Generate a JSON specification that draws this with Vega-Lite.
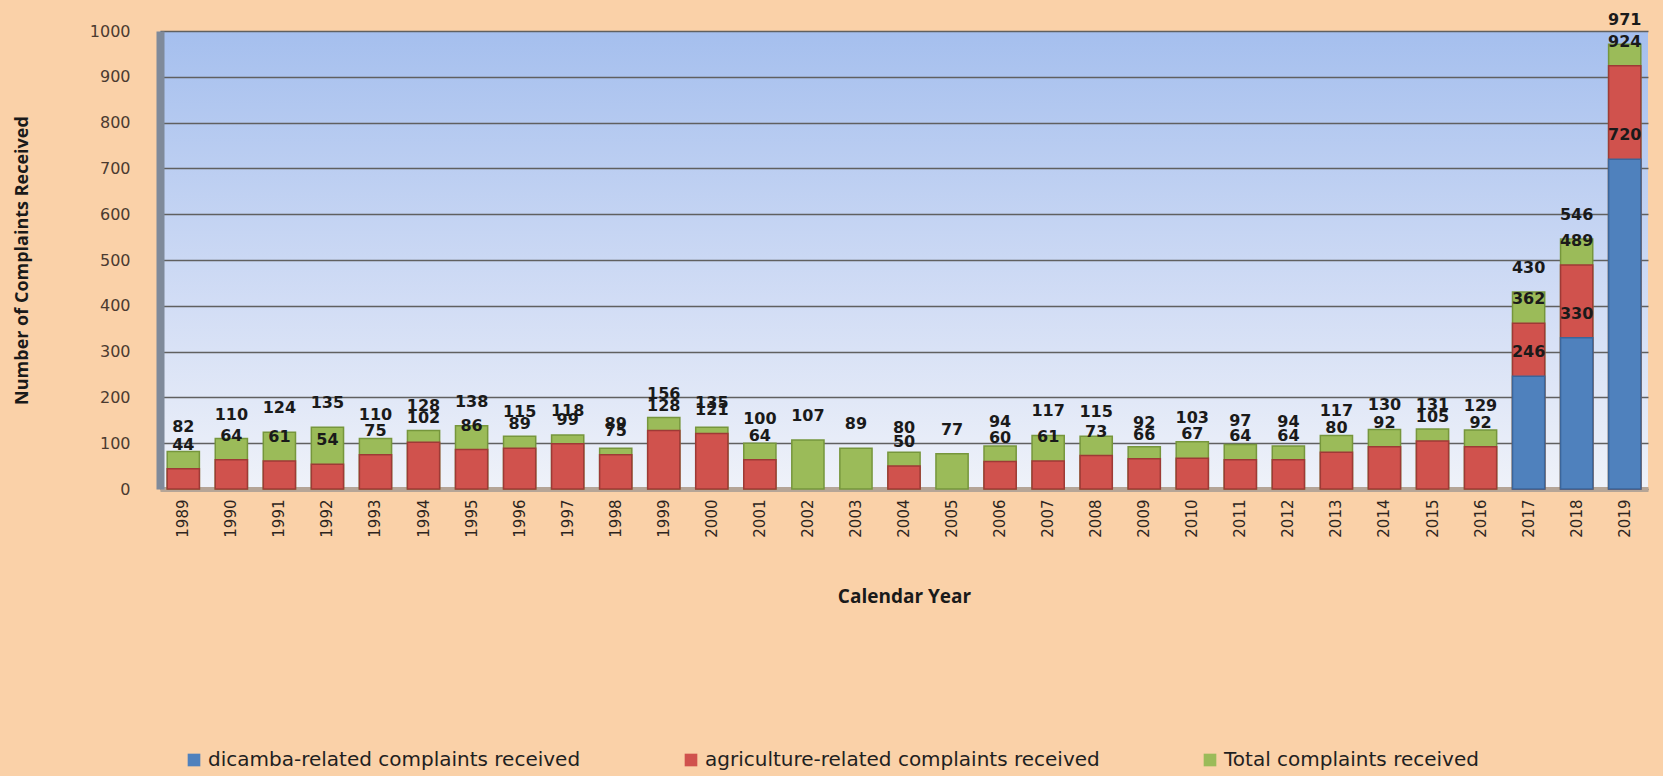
{
  "$schema": "https://vega.github.io/schema/vega-lite/v6.json",
  "width": 1488,
  "height": 458,
  "autosize": {"type": "none"},
  "padding": {"left": 160, "top": 31, "right": 15, "bottom": 287},
  "background": "#fad1a8",
  "config": {
    "view": {
      "stroke": null,
      "fill": {"gradient": "linear", "x1": 0, "y1": 0, "x2": 0, "y2": 1,
        "stops": [{"offset": 0, "color": "#a5bfee"}, {"offset": 0.6, "color": "#d2ddf5"}, {"offset": 1, "color": "#eff2f9"}]}
    }
  },
  "data": {
    "values": [
      {"year": "1989", "series": "Total complaints received", "value": 82},
      {"year": "1990", "series": "Total complaints received", "value": 110},
      {"year": "1991", "series": "Total complaints received", "value": 124},
      {"year": "1992", "series": "Total complaints received", "value": 135},
      {"year": "1993", "series": "Total complaints received", "value": 110},
      {"year": "1994", "series": "Total complaints received", "value": 128},
      {"year": "1995", "series": "Total complaints received", "value": 138},
      {"year": "1996", "series": "Total complaints received", "value": 115},
      {"year": "1997", "series": "Total complaints received", "value": 118},
      {"year": "1998", "series": "Total complaints received", "value": 89},
      {"year": "1999", "series": "Total complaints received", "value": 156},
      {"year": "2000", "series": "Total complaints received", "value": 135},
      {"year": "2001", "series": "Total complaints received", "value": 100},
      {"year": "2002", "series": "Total complaints received", "value": 107},
      {"year": "2003", "series": "Total complaints received", "value": 89},
      {"year": "2004", "series": "Total complaints received", "value": 80},
      {"year": "2005", "series": "Total complaints received", "value": 77},
      {"year": "2006", "series": "Total complaints received", "value": 94},
      {"year": "2007", "series": "Total complaints received", "value": 117},
      {"year": "2008", "series": "Total complaints received", "value": 115},
      {"year": "2009", "series": "Total complaints received", "value": 92},
      {"year": "2010", "series": "Total complaints received", "value": 103},
      {"year": "2011", "series": "Total complaints received", "value": 97},
      {"year": "2012", "series": "Total complaints received", "value": 94},
      {"year": "2013", "series": "Total complaints received", "value": 117},
      {"year": "2014", "series": "Total complaints received", "value": 130},
      {"year": "2015", "series": "Total complaints received", "value": 131},
      {"year": "2016", "series": "Total complaints received", "value": 129},
      {"year": "2017", "series": "Total complaints received", "value": 430},
      {"year": "2018", "series": "Total complaints received", "value": 546},
      {"year": "2019", "series": "Total complaints received", "value": 971},
      {"year": "1989", "series": "agriculture-related complaints received", "value": 44},
      {"year": "1990", "series": "agriculture-related complaints received", "value": 64},
      {"year": "1991", "series": "agriculture-related complaints received", "value": 61},
      {"year": "1992", "series": "agriculture-related complaints received", "value": 54},
      {"year": "1993", "series": "agriculture-related complaints received", "value": 75},
      {"year": "1994", "series": "agriculture-related complaints received", "value": 102},
      {"year": "1995", "series": "agriculture-related complaints received", "value": 86},
      {"year": "1996", "series": "agriculture-related complaints received", "value": 89},
      {"year": "1997", "series": "agriculture-related complaints received", "value": 99},
      {"year": "1998", "series": "agriculture-related complaints received", "value": 75},
      {"year": "1999", "series": "agriculture-related complaints received", "value": 128},
      {"year": "2000", "series": "agriculture-related complaints received", "value": 121},
      {"year": "2001", "series": "agriculture-related complaints received", "value": 64},
      {"year": "2004", "series": "agriculture-related complaints received", "value": 50},
      {"year": "2006", "series": "agriculture-related complaints received", "value": 60},
      {"year": "2007", "series": "agriculture-related complaints received", "value": 61},
      {"year": "2008", "series": "agriculture-related complaints received", "value": 73},
      {"year": "2009", "series": "agriculture-related complaints received", "value": 66},
      {"year": "2010", "series": "agriculture-related complaints received", "value": 67},
      {"year": "2011", "series": "agriculture-related complaints received", "value": 64},
      {"year": "2012", "series": "agriculture-related complaints received", "value": 64},
      {"year": "2013", "series": "agriculture-related complaints received", "value": 80},
      {"year": "2014", "series": "agriculture-related complaints received", "value": 92},
      {"year": "2015", "series": "agriculture-related complaints received", "value": 105},
      {"year": "2016", "series": "agriculture-related complaints received", "value": 92},
      {"year": "2017", "series": "agriculture-related complaints received", "value": 362},
      {"year": "2018", "series": "agriculture-related complaints received", "value": 489},
      {"year": "2019", "series": "agriculture-related complaints received", "value": 924},
      {"year": "2017", "series": "dicamba-related complaints received", "value": 246},
      {"year": "2018", "series": "dicamba-related complaints received", "value": 330},
      {"year": "2019", "series": "dicamba-related complaints received", "value": 720}
    ]
  },
  "encoding": {
    "x": {
      "field": "year", "type": "ordinal",
      "scale": {"paddingInner": 0.33, "paddingOuter": 0.15},
      "axis": {
        "title": "Calendar Year",
        "titleFont": "Open Sans", "titleFontWeight": "bold", "titleFontSize": 19, "titleColor": "#1a1a1a",
        "titlePadding": 50,
        "labelAngle": 270, "labelFont": "DejaVu Sans", "labelFontSize": 15, "labelColor": "#2e2520",
        "labelPadding": 10, "ticks": false,
        "domainColor": "#b5a597", "domainWidth": 5
      }
    },
    "y": {
      "field": "value", "type": "quantitative", "stack": null,
      "scale": {"domain": [0, 1000], "nice": false},
      "axis": {
        "title": "Number of Complaints Received",
        "titleFont": "Open Sans", "titleFontWeight": "bold", "titleFontSize": 18, "titleColor": "#1a1a1a",
        "titlePadding": 58, "format": "d",
        "values": [0, 100, 200, 300, 400, 500, 600, 700, 800, 900, 1000],
        "labelFont": "DejaVu Sans", "labelFontSize": 16, "labelColor": "#4a3a30",
        "labelPadding": 30, "ticks": false,
        "domainColor": "#7f8a9a", "domainWidth": 8,
        "grid": true, "gridColor": "#606060", "gridWidth": 1.5
      }
    }
  },
  "layer": [
    {
      "mark": {"type": "bar", "strokeWidth": 1.5},
      "encoding": {
        "color": {
          "field": "series", "type": "nominal",
          "scale": {
            "domain": ["dicamba-related complaints received", "agriculture-related complaints received", "Total complaints received"],
            "range": ["#4f81bd", "#d0524d", "#9bbb59"]
          },
          "legend": {
            "title": null, "orient": "none", "direction": "horizontal",
            "legendX": 24, "legendY": 719,
            "symbolType": "square", "symbolSize": 160, "symbolStrokeWidth": 0,
            "labelFont": "DejaVu Sans", "labelFontSize": 20, "labelColor": "#1f1f1f",
            "labelLimit": 700, "columnPadding": 100, "labelOffset": 4
          }
        },
        "stroke": {
          "field": "series", "type": "nominal",
          "scale": {
            "domain": ["dicamba-related complaints received", "agriculture-related complaints received", "Total complaints received"],
            "range": ["#3b659a", "#9e3a36", "#76963c"]
          },
          "legend": null
        }
      }
    },
    {
      "mark": {"type": "text", "font": "DejaVu Sans", "fontWeight": "bold", "fontSize": 16, "color": "#1a1a1a", "baseline": "middle", "dy": -24},
      "encoding": {"text": {"field": "value", "type": "quantitative"}}
    }
  ]
}
